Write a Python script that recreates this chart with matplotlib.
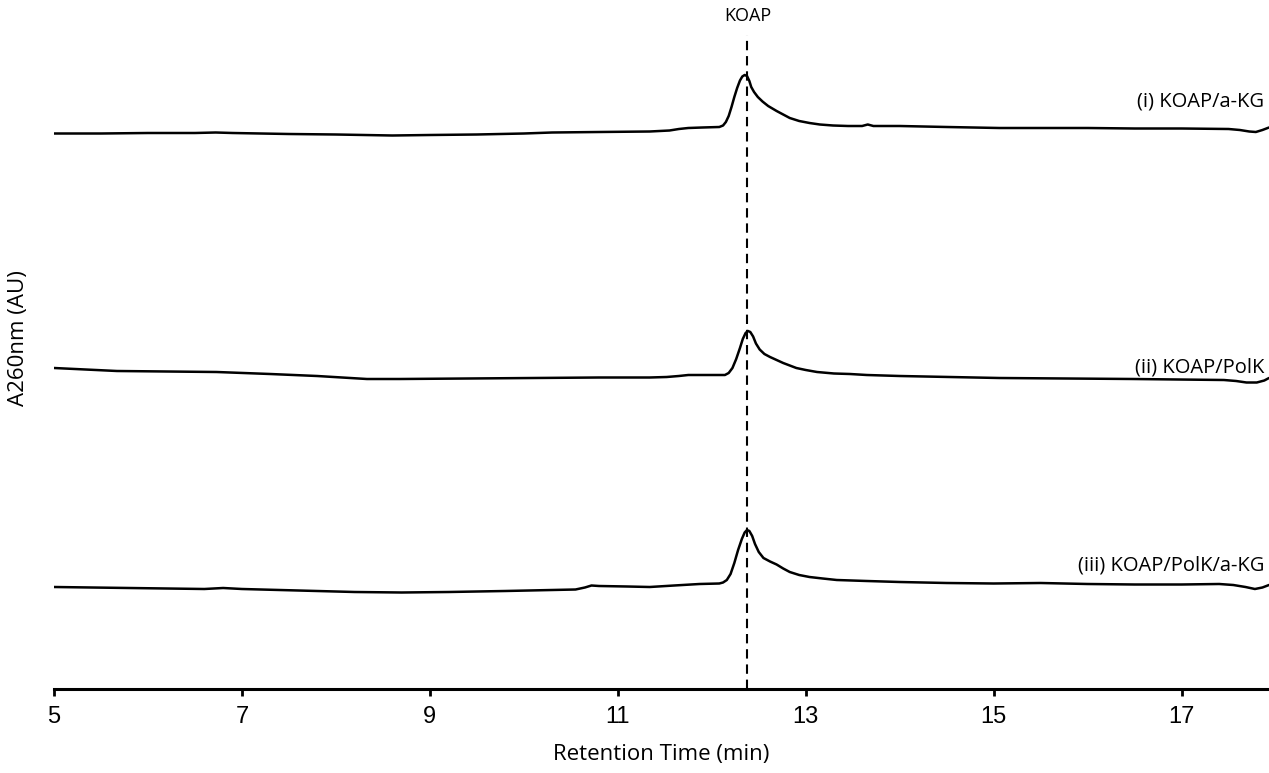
import numpy as np
import matplotlib.pyplot as plt

# retention time (min) and A260 signal for each run (arbitrary units, stacked)
t1 = [5.0, 5.5, 6.0, 6.5, 6.72, 6.9, 7.5, 8.0, 8.6, 9.0, 9.5, 10.0, 10.3, 10.8,
      11.34, 11.55, 11.65, 11.75, 11.9, 12.08, 12.12, 12.15, 12.18, 12.21, 12.24,
      12.27, 12.30, 12.325, 12.35, 12.375, 12.40, 12.42, 12.45, 12.49, 12.54,
      12.60, 12.69, 12.76, 12.83, 12.93, 13.04, 13.15, 13.29, 13.45, 13.6, 13.66,
      13.72, 14.0, 14.5, 15.06, 15.5, 16.0, 16.5, 17.0, 17.5, 17.62, 17.72,
      17.79, 17.86, 17.93]
a1 = [555.5, 555.5, 556, 556, 556.5, 556, 555, 554.5, 553.5, 554, 554.5, 555.5,
      556.5, 557, 557.5, 558.5, 560, 561, 561.5, 562, 563.5, 567, 573, 582, 592,
      601, 608.5, 612.5, 614, 613, 608, 602, 597, 592, 587.5, 583, 578, 574.5,
      571, 568, 566, 564.5, 563.5, 563, 563, 564.5, 563, 563, 562, 561, 561, 561,
      560.5, 560.5, 560, 559, 557.5, 557, 559, 561.5]

t2 = [5.0, 5.67, 6.2, 6.73, 7.3, 7.8, 8.33, 8.68, 9.4, 10.1, 10.8, 11.34, 11.52,
      11.65, 11.75, 12.14, 12.18, 12.22, 12.26, 12.30, 12.33, 12.36, 12.385,
      12.41, 12.44, 12.47, 12.51, 12.56, 12.62, 12.69, 12.76, 12.83, 12.90, 13.0,
      13.12, 13.3, 13.47, 13.65, 14.0, 15.06, 16.48, 17.45, 17.58, 17.69, 17.8,
      17.88, 17.93]
a2 = [321, 318, 317.5, 317, 315, 313, 310, 310, 310.5, 311, 311.5, 311.5, 312,
      313, 314, 314, 316, 321, 330, 341, 350, 356, 358, 357, 352.5, 345.5, 339.5,
      335, 332, 329, 326, 323.5, 321, 319, 317, 315.5, 315, 314, 313, 311, 310,
      309, 308, 306.5, 306.5, 308.5, 311]

t3 = [5.0, 5.8, 6.6, 6.8, 7.0, 7.6, 8.2, 8.7, 9.2, 9.8, 10.3, 10.55, 10.65,
      10.72, 10.8, 11.1, 11.34, 11.6, 11.87, 12.08, 12.12, 12.16, 12.20, 12.24,
      12.28, 12.32, 12.35, 12.375, 12.40, 12.43, 12.46, 12.50, 12.55, 12.62,
      12.69, 12.76, 12.83, 12.93, 13.04, 13.18, 13.33, 13.65, 14.0, 14.5, 15.0,
      15.5, 16.0, 16.5, 17.0, 17.4, 17.55, 17.68, 17.78, 17.86, 17.93]
a3 = [102, 101, 100, 101, 100, 98.5, 97, 96.5, 97, 98, 99, 99.5, 101.5, 103.5,
      103, 102.5, 102, 103.5, 105, 105.5, 106.5, 109, 115, 126, 139, 150, 156.5,
      159, 158, 153, 145, 137, 131, 127.5, 124.5, 120.5, 117, 114, 112, 110.5,
      109, 108, 107, 106, 105.5, 106, 105, 104.5, 104.5, 105, 104, 102, 100,
      101.5, 104]

koap_time = 12.38
run_labels = ["(i) KOAP/a-KG", "(ii) KOAP/PolK", "(iii) KOAP/PolK/a-KG"]
label_levels = [587, 322, 124]
xticks = [5, 7, 9, 11, 13, 15, 17]

fig = plt.figure(figsize=(12.69, 7.73), dpi=100)
ax = fig.add_axes([54 / 1269, 84 / 773, 1 - 54 / 1269, 659 / 773])

for t, a in [(t1, a1), (t2, a2), (t3, a3)]:
    ax.plot(t, a, color="black", lw=1.8, solid_joinstyle="round",
            solid_capstyle="round")

ax.axvline(koap_time, ymin=0, ymax=0.993, color="black", lw=1.5,
           linestyle=(0, (4.5, 2.8)))
ax.text(koap_time, 664, "KOAP", ha="center", va="bottom", fontsize=13,
        family="Open Sans")

for lab, lev in zip(run_labels, label_levels):
    ax.text(17.88, lev, lab, ha="right", va="center", fontsize=14.5,
            family="Open Sans")

ax.set_xlim(5, 17.93)
ax.set_ylim(0, 659)
ax.set_xticks(xticks)
ax.set_xticklabels([str(x) for x in xticks], family="Liberation Sans",
                   fontsize=17)
ax.set_yticks([])
ax.tick_params(axis="x", direction="out", length=5, width=2, pad=7)
for s in ["top", "right", "left"]:
    ax.spines[s].set_visible(False)
ax.spines["bottom"].set_linewidth(2.2)

ax.set_xlabel("Retention Time (min)", fontsize=16, family="Open Sans",
              labelpad=12)
fig.text(19 / 1269, 1 - 338 / 773, "A260nm (AU)", rotation=90, ha="center",
         va="center", fontsize=16, family="Open Sans")

plt.savefig("out.png", dpi=100)
